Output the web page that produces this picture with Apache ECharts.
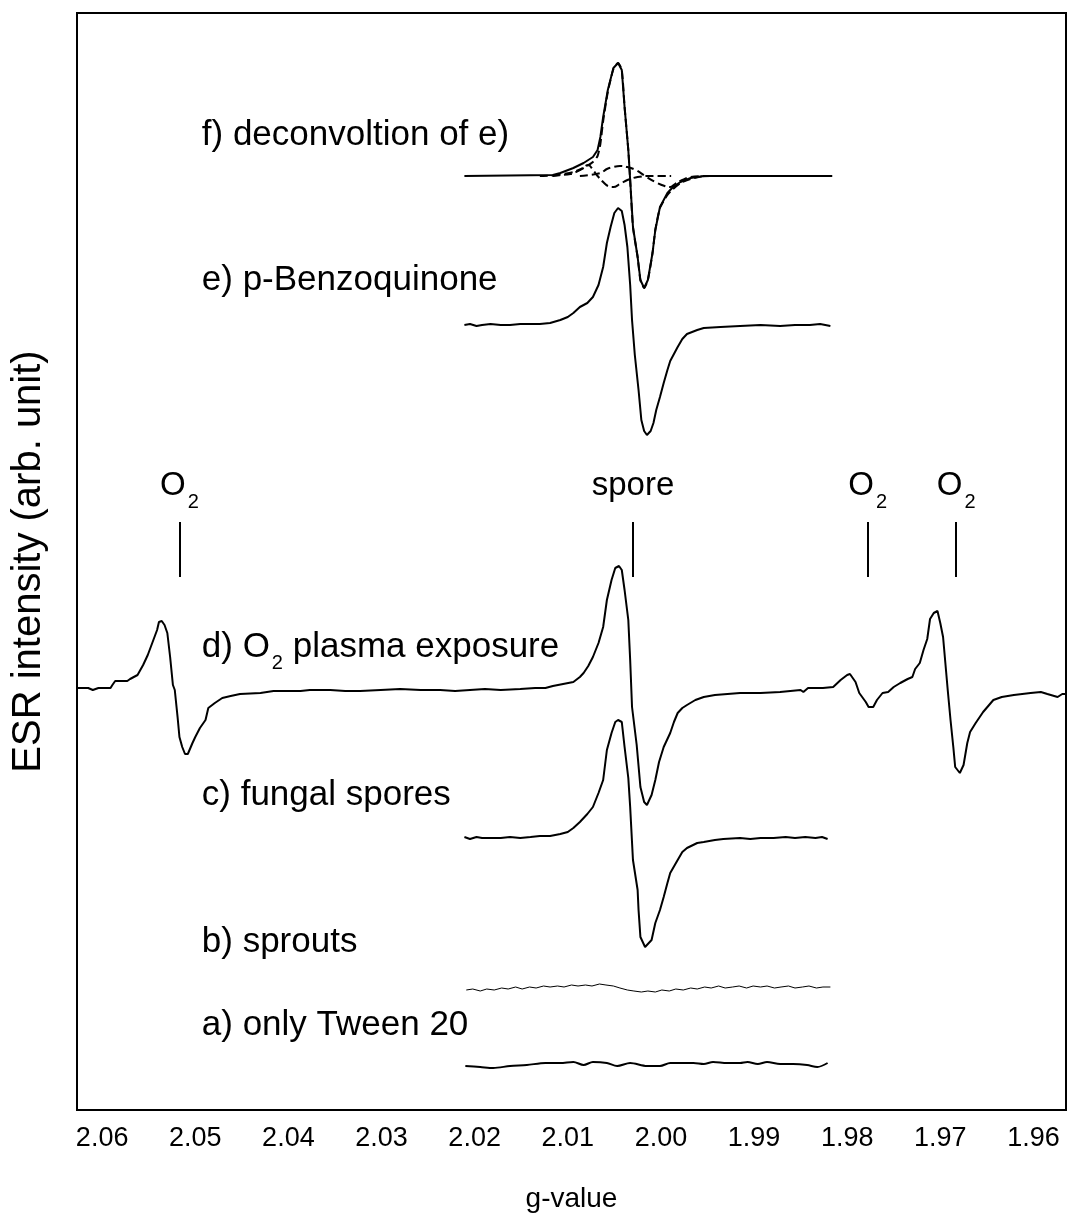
<!DOCTYPE html>
<html><head><meta charset="utf-8">
<script src="https://cdn.jsdelivr.net/npm/echarts@6/dist/echarts.min.js"></script>
<style>html,body{margin:0;padding:0;background:#fff}#c{width:1074px;height:1228px}</style>
</head><body><div id="c"></div>
<script>
// ---- data (g-value, relative intensity) ----
const gTicks = [2.06, 2.05, 2.04, 2.03, 2.02, 2.01, 2.00, 1.99, 1.98, 1.97, 1.96];

const traceA = [[2.0210,-1],[2.0194,-2],[2.0180,-3],[2.0162,-1],[2.0144,0],[2.0124,2],[2.0108,2],[2.0094,3],[2.0083,0],[2.0073,3],[2.0058,2],[2.0047,-1],[2.0033,2],[2.0015,-1],[2.0001,-1],[1.9990,2],[1.9976,2],[1.9965,2],[1.9954,1],[1.9944,3],[1.9929,2],[1.9915,2],[1.9907,3],[1.9896,1],[1.9886,3],[1.9872,1],[1.9858,1],[1.9843,0],[1.9832,-2],[1.9821,2]];

const traceB = [[2.0209,-2],[2.0202,-1],[2.0194,-3],[2.0187,-1],[2.0179,-2],[2.0171,0],[2.0164,-1],[2.0156,1],[2.0149,-1],[2.0141,1],[2.0134,0],[2.0126,2],[2.0119,1],[2.0111,2],[2.0104,1],[2.0096,3],[2.0089,2],[2.0081,3],[2.0074,2],[2.0066,4],[2.0059,3],[2.0051,2],[2.0044,0],[2.0036,-2],[2.0029,-3],[2.0021,-4],[2.0014,-3],[2.0006,-4],[1.9999,-2],[1.9991,-3],[1.9984,-1],[1.9976,-2],[1.9968,0],[1.9961,-1],[1.9953,1],[1.9946,0],[1.9938,2],[1.9931,0],[1.9923,1],[1.9916,2],[1.9908,0],[1.9901,2],[1.9893,1],[1.9886,2],[1.9878,0],[1.9871,1],[1.9863,2],[1.9856,0],[1.9848,1],[1.9841,2],[1.9833,0],[1.9826,1],[1.9818,1]];

const traceC = [[2.0211,1],[2.0205,-1],[2.0198,1],[2.0192,0],[2.0183,0],[2.0172,0],[2.0162,1],[2.0151,0],[2.0140,1],[2.0130,2],[2.0119,2],[2.0108,4],[2.0100,6],[2.0094,10],[2.0087,16],[2.0079,24],[2.0073,31],[2.0067,45],[2.0062,58],[2.0058,88],[2.0053,105],[2.0049,116],[2.0046,118],[2.0042,116],[2.0039,91],[2.0035,60],[2.0033,31],[2.0030,-22],[2.0025,-52],[2.0024,-72],[2.0022,-99],[2.0017,-109],[2.0014,-106],[2.0010,-102],[2.0006,-85],[2.0001,-72],[1.9997,-59],[1.9993,-45],[1.9990,-35],[1.9982,-22],[1.9977,-14],[1.9972,-10],[1.9961,-5],[1.9954,-4],[1.9942,-2],[1.9933,-1],[1.9915,0],[1.9904,-1],[1.9893,0],[1.9879,0],[1.9866,1],[1.9856,0],[1.9845,1],[1.9834,0],[1.9827,1],[1.9821,-1]];

const traceD = [[2.0627,2],[2.0623,2],[2.0615,2],[2.0610,0],[2.0604,2],[2.0591,2],[2.0589,5],[2.0586,9],[2.0580,9],[2.0573,9],[2.0570,11],[2.0562,15],[2.0556,25],[2.0551,35],[2.0545,50],[2.0541,60],[2.0539,68],[2.0536,69],[2.0533,65],[2.0530,57],[2.0527,33],[2.0524,5],[2.0522,0],[2.0519,-27],[2.0517,-47],[2.0514,-57],[2.0511,-64],[2.0508,-64],[2.0503,-53],[2.0500,-47],[2.0495,-38],[2.0489,-30],[2.0486,-18],[2.0479,-13],[2.0471,-8],[2.0462,-6],[2.0452,-4],[2.0430,-3],[2.0416,-1],[2.0387,-1],[2.0377,0],[2.0355,0],[2.0339,-1],[2.0323,-1],[2.0301,0],[2.0280,1],[2.0258,0],[2.0237,0],[2.0221,-1],[2.0205,0],[2.0189,1],[2.0172,0],[2.0151,1],[2.0135,2],[2.0124,2],[2.0116,4],[2.0105,6],[2.0094,8],[2.0087,13],[2.0083,17],[2.0078,24],[2.0073,33],[2.0067,47],[2.0062,63],[2.0058,90],[2.0053,110],[2.0049,122],[2.0045,124],[2.0042,120],[2.0039,100],[2.0035,70],[2.0033,30],[2.0031,-17],[2.0026,-55],[2.0022,-97],[2.0018,-112],[2.0015,-115],[2.0010,-105],[2.0006,-90],[2.0002,-72],[1.9997,-57],[1.9993,-49],[1.9990,-43],[1.9986,-32],[1.9982,-23],[1.9977,-18],[1.9972,-15],[1.9963,-10],[1.9954,-7],[1.9942,-5],[1.9915,-3],[1.9893,-3],[1.9872,-2],[1.9850,0],[1.9847,-2],[1.9842,2],[1.9826,2],[1.9815,3],[1.9807,10],[1.9800,15],[1.9797,16],[1.9791,8],[1.9787,-3],[1.9780,-12],[1.9777,-17],[1.9772,-17],[1.9768,-10],[1.9762,-3],[1.9756,-2],[1.9750,3],[1.9743,7],[1.9735,11],[1.9730,13],[1.9727,21],[1.9722,27],[1.9718,40],[1.9714,51],[1.9711,71],[1.9707,77],[1.9703,79],[1.9700,67],[1.9697,53],[1.9692,0],[1.9689,-30],[1.9686,-57],[1.9684,-77],[1.9679,-83],[1.9675,-75],[1.9671,-53],[1.9668,-42],[1.9662,-33],[1.9654,-22],[1.9643,-10],[1.9634,-7],[1.9621,-5],[1.9603,-3],[1.9592,-2],[1.9585,-4],[1.9574,-7],[1.9569,-4],[1.9565,-4]];

const traceE = [[2.0211,0],[2.0205,1],[2.0198,-1],[2.0192,0],[2.0183,1],[2.0172,0],[2.0162,0],[2.0151,1],[2.0140,1],[2.0130,1],[2.0119,2],[2.0108,5],[2.0100,8],[2.0094,12],[2.0087,18],[2.0079,22],[2.0073,28],[2.0067,40],[2.0062,58],[2.0058,82],[2.0054,98],[2.0050,112],[2.0046,117],[2.0042,114],[2.0039,100],[2.0036,78],[2.0033,40],[2.0031,5],[2.0028,-30],[2.0024,-65],[2.0021,-95],[2.0018,-106],[2.0015,-110],[2.0011,-106],[2.0008,-98],[2.0005,-85],[2.0001,-72],[1.9997,-58],[1.9993,-45],[1.9990,-36],[1.9982,-22],[1.9977,-14],[1.9972,-9],[1.9961,-5],[1.9954,-3],[1.9936,-2],[1.9915,-1],[1.9893,0],[1.9872,-1],[1.9856,0],[1.9840,0],[1.9829,1],[1.9818,-1]];

const traceF = [[2.0211,0],[2.0116,1],[2.0108,3],[2.0094,8],[2.0083,13],[2.0073,19],[2.0068,26],[2.0065,39],[2.0062,59],[2.0057,86],[2.0051,108],[2.0046,113],[2.0042,106],[2.0039,69],[2.0035,26],[2.0033,-4],[2.0030,-51],[2.0025,-81],[2.0022,-104],[2.0018,-112],[2.0014,-104],[2.0009,-77],[2.0006,-54],[2.0001,-31],[1.9993,-17],[1.9987,-11],[1.9979,-6],[1.9968,-2],[1.9954,0],[1.9816,0]];

const fitMain = [[2.0116,0],[2.0094,4],[2.0083,8],[2.0073,14],[2.0068,20],[2.0065,32],[2.0062,55],[2.0057,84],[2.0051,107],[2.0046,113],[2.0042,106],[2.0039,69],[2.0035,26],[2.0033,-4],[2.0030,-51],[2.0025,-81],[2.0022,-104],[2.0018,-112],[2.0014,-104],[2.0009,-77],[2.0006,-54],[2.0001,-32],[1.9993,-19],[1.9987,-13],[1.9979,-7],[1.9968,-3],[1.9954,0]];
const fitB = [[2.0130,0],[2.0097,2],[2.0087,6],[2.0078,11],[2.0073,6],[2.0068,0],[2.0062,-6],[2.0057,-10],[2.0051,-11],[2.0044,-8],[2.0036,-4],[2.0025,-1],[2.0011,0],[1.9989,0]];
const fitC = [[2.0087,0],[2.0065,3],[2.0058,7],[2.0051,9],[2.0044,10],[2.0036,9],[2.0027,6],[2.0017,0],[2.0006,-6],[1.9996,-10],[1.9990,-11],[1.9985,-8],[1.9977,-4],[1.9968,-1],[1.9947,0]];

// vertical stacking offsets of the spectra a..f
const baselineOffsets = [45, 122, 272, 420, 785, 934];
const traceLabels = ['{n|a) only Tween 20}', '{n|b) sprouts}', '{n|c) fungal spores}', '{n|d) O}{s|2}{n| plasma exposure}', '{n|e) p-Benzoquinone}', '{n|f) deconvoltion of e)}'];
const traceLabelY = [85, 168, 315, 463, 830, 975];
const traceLabelG = 2.0493;

const markerG = [2.0517, 2.0030, 1.9778, 1.9683];
const markerText = ['{n|O}{s|2}', '{n|spore}', '{n|O}{s|2}', '{n|O}{s|2}'];
const markerRange = [533, 588];
const markerTextY = 624;

// ---- chart ----
const FONT = '"Liberation Sans", Arial, Helvetica, sans-serif';
const shift = (arr, off) => arr.map(p => [p[0], p[1] + off]);
const lineSeries = (data, off, opts) => Object.assign({
  type: 'line', data: shift(data, off), symbol: 'none', silent: true,
  lineStyle: { color: '#000', width: 2 }, z: 3
}, opts || {});

const richLabel = {
  n: { fontSize: 35, lineHeight: 52, fontFamily: FONT, color: '#000' },
  s: { fontSize: 20, lineHeight: 6, verticalAlign: 'bottom', fontFamily: FONT, color: '#000', padding: [0, 0, 0, 2] }
};
const richMarker = {
  n: { fontSize: 33, lineHeight: 52, fontFamily: FONT, color: '#000' },
  s: { fontSize: 20, lineHeight: 6, verticalAlign: 'bottom', fontFamily: FONT, color: '#000', padding: [0, 0, 0, 2] }
};

const chart = echarts.init(document.getElementById('c'), null, { renderer: 'canvas' });
chart.setOption({
  animation: false,
  backgroundColor: '#fff',
  grid: { left: 77, right: 8, top: 13, bottom: 118, show: true, borderColor: '#000', borderWidth: 2, backgroundColor: 'transparent' },
  xAxis: {
    type: 'value', inverse: true, min: 1.9565, max: 2.0627,
    name: 'g-value', nameLocation: 'middle', nameGap: 75,
    nameTextStyle: { fontSize: 28, fontFamily: FONT, color: '#000' },
    axisLine: { show: false }, splitLine: { show: false },
    axisTick: { show: false },
    axisLabel: { customValues: gTicks, formatter: v => v.toFixed(2), fontSize: 27, fontFamily: FONT, color: '#000', margin: 15 }
  },
  yAxis: {
    type: 'value', min: 0, max: 1097,
    name: 'ESR intensity (arb. unit)', nameLocation: 'middle', nameGap: 28,
    nameTextStyle: { fontSize: 40, fontFamily: FONT, color: '#000' },
    axisLine: { show: false }, axisTick: { show: false }, axisLabel: { show: false }, splitLine: { show: false }
  },
  series: [
    lineSeries(traceA, baselineOffsets[0], { smooth: 0.3 }),
    lineSeries(traceB, baselineOffsets[1], { lineStyle: { color: '#000', width: 1 } }),
    lineSeries(traceC, baselineOffsets[2]),
    lineSeries(traceD, baselineOffsets[3]),
    lineSeries(traceE, baselineOffsets[4]),
    lineSeries(traceF, baselineOffsets[5]),
    lineSeries(fitMain, baselineOffsets[5], { smooth: 0.2, lineStyle: { color: '#000', width: 2, type: [8, 4] } }),
    lineSeries(fitB, baselineOffsets[5], { smooth: 0.4, lineStyle: { color: '#000', width: 2, type: [8, 4] } }),
    lineSeries(fitC, baselineOffsets[5], { smooth: 0.4, lineStyle: { color: '#000', width: 2, type: [8, 4] } }),
    {
      type: 'scatter', symbolSize: 0, silent: true, z: 5,
      itemStyle: { opacity: 1, color: '#000' },
      data: traceLabels.map((t, i) => [traceLabelG, traceLabelY[i], t]),
      label: { show: true, position: 'right', distance: 0, formatter: p => p.data[2],
        color: '#000', opacity: 1, rich: richLabel }
    },
    {
      type: 'scatter', symbolSize: 0, silent: true, z: 5,
      itemStyle: { opacity: 1, color: '#000' },
      data: markerG.map((g, i) => [g, markerTextY, markerText[i]]),
      label: { show: true, position: 'inside', formatter: p => p.data[2],
        color: '#000', opacity: 1, textBorderWidth: 0, rich: richMarker },
      markLine: {
        silent: true, symbol: 'none', label: { show: false },
        lineStyle: { color: '#000', width: 2, type: 'solid', opacity: 1 },
        data: markerG.map(g => [{ coord: [g, markerRange[0]] }, { coord: [g, markerRange[1]] }])
      }
    }
  ]
});
</script></body></html>
